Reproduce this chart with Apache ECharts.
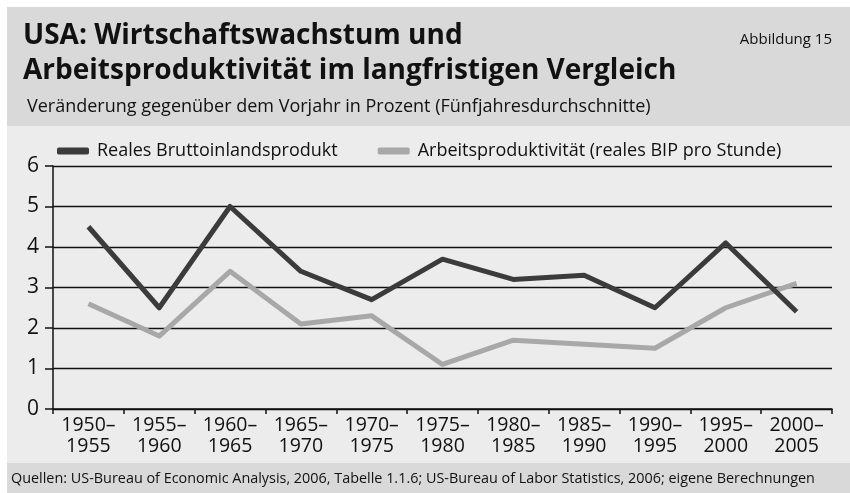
<!DOCTYPE html>
<html>
<head>
<meta charset="UTF-8">
<script src="https://cdn.jsdelivr.net/npm/echarts@6/dist/echarts.min.js"></script>
<title>USA: Wirtschaftswachstum und Arbeitsproduktivität</title>
<style>
  html, body { margin: 0; padding: 0; background: #fff; }
</style>
</head>
<body>
<div id="main" style="width: 850px; height: 493px;"></div>
<script type="text/javascript">
// Fünfjahreszeiträume
var periods = ['1950–\n1955', '1955–\n1960', '1960–\n1965', '1965–\n1970', '1970–\n1975',
  '1975–\n1980', '1980–\n1985', '1985–\n1990', '1990–\n1995', '1995–\n2000', '2000–\n2005'];
// Reales BIP, Veränderung in Prozent
var realGdp = [4.5, 2.5, 5.0, 3.4, 2.7, 3.7, 3.2, 3.3, 2.5, 4.1, 2.4];
// Arbeitsproduktivität (reales BIP pro Stunde)
var productivity = [2.6, 1.8, 3.4, 2.1, 2.3, 1.1, 1.7, 1.6, 1.5, 2.5, 3.1];
var yTicks = [0, 1, 2, 3, 4, 5, 6];

var font = '"Open Sans", "Noto Sans", sans-serif';
var myChart = echarts.init(document.getElementById('main'));

var option = {
  backgroundColor: '#ffffff',
  textStyle: { fontFamily: font },
  graphic: [
    // Hintergrundflächen
    { type: 'rect', z: -10, shape: { x: 7, y: 7, width: 843, height: 119 }, style: { fill: '#d9d9da' } },
    { type: 'rect', z: -10, shape: { x: 7, y: 126, width: 843, height: 337 }, style: { fill: '#ececec' } },
    { type: 'rect', z: -10, shape: { x: 7, y: 463, width: 843, height: 30 }, style: { fill: '#d9d9da' } }
  ],
  title: [
    {
      text: 'USA: Wirtschaftswachstum und\nArbeitsproduktivität im langfristigen Vergleich',
      left: 18, top: 14,
      textStyle: { fontFamily: font, fontSize: 28, fontWeight: 'bold', color: '#111', lineHeight: 35 }
    },
    {
      text: 'Veränderung gegenüber dem Vorjahr in Prozent (Fünfjahresdurchschnitte)',
      left: 22, top: 93,
      textStyle: { fontFamily: font, fontSize: 18, fontWeight: 'normal', color: '#111' }
    },
    {
      text: 'Abbildung 15',
      right: 13, top: 27,
      textStyle: { fontFamily: font, fontSize: 15, fontWeight: 'normal', color: '#111' }
    },
    {
      text: 'Quellen: US-Bureau of Economic Analysis, 2006, Tabelle 1.1.6; US-Bureau of Labor Statistics, 2006; eigene Berechnungen',
      left: 6, top: 467,
      textStyle: { fontFamily: font, fontSize: 14.4, fontWeight: 'normal', color: '#111' }
    }
  ],
  legend: {
    left: 52, top: 137,
    itemWidth: 32, itemHeight: 7,
    itemGap: 40,
    icon: 'roundRect',
    textStyle: { fontFamily: font, fontSize: 18, color: '#111', padding: [0, 0, 0, 3] },
    data: ['Reales Bruttoinlandsprodukt', 'Arbeitsproduktivität (reales BIP pro Stunde)']
  },
  grid: { left: 53, right: 18, top: 166, bottom: 84 },
  xAxis: {
    type: 'category',
    data: periods,
    boundaryGap: true,
    axisLine: { lineStyle: { color: '#111', width: 1.5 } },
    axisTick: { show: true, length: 5, lineStyle: { color: '#111', width: 1.5 } },
    axisLabel: { fontFamily: font, fontSize: 19.5, lineHeight: 21, color: '#111', margin: 6 }
  },
  yAxis: {
    type: 'value',
    min: 0, max: 6, interval: 1,
    axisLine: { show: true, lineStyle: { color: '#111', width: 1.5 } },
    axisTick: { show: true, length: 8, lineStyle: { color: '#111', width: 1.5 } },
    axisLabel: {
      fontFamily: font, fontSize: 21, color: '#111', margin: 14,
      formatter: function (v) { return yTicks.indexOf(v) >= 0 ? String(v) : ''; }
    },
    splitLine: { show: true, lineStyle: { color: '#111', width: 1.3 } }
  },
  series: [
    {
      name: 'Reales Bruttoinlandsprodukt',
      type: 'line',
      data: realGdp,
      symbol: 'none',
      itemStyle: { color: '#3b3b3b' },
      lineStyle: { color: '#3b3b3b', width: 5, join: 'round' },
      z: 3
    },
    {
      name: 'Arbeitsproduktivität (reales BIP pro Stunde)',
      type: 'line',
      data: productivity,
      symbol: 'none',
      itemStyle: { color: '#a8a8a8' },
      lineStyle: { color: '#a8a8a8', width: 5, join: 'round' },
      z: 2
    }
  ]
};
myChart.setOption(option);
</script>
</body>
</html>
